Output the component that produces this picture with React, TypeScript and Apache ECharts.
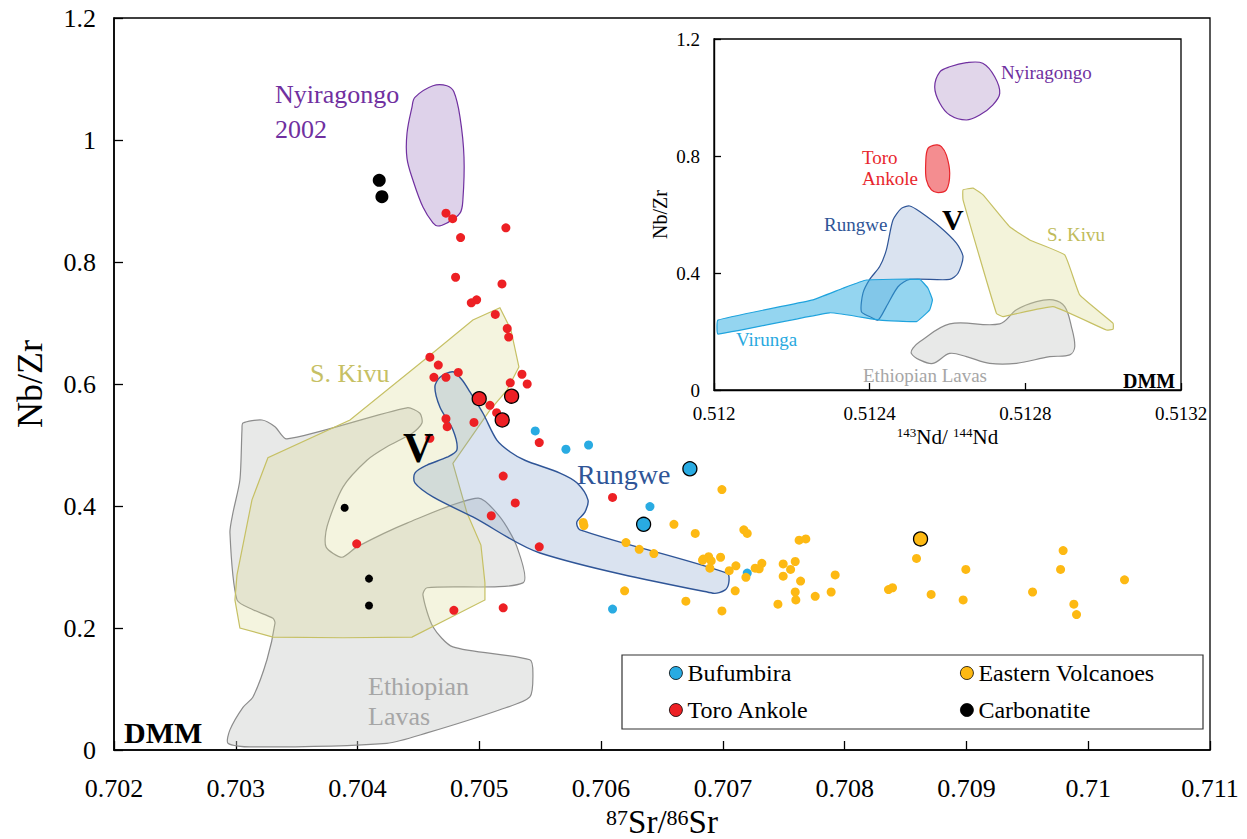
import { useEffect, useRef } from 'react';
import * as echarts from 'echarts';

const FONT = "'Liberation Serif', serif";

// ---------- Main diagram: 87Sr/86Sr vs Nb/Zr ----------
const srMin = 0.702;
const srMax = 0.711;
const srStep = 0.001;
const nbzrMin = 0;
const nbzrMax = 1.2;
const nbzrStep = 0.2;

const bufumbira = [
  [0.705459, 0.523], [0.705711, 0.493], [0.705897, 0.5], [0.706401, 0.399],
  [0.7072, 0.29], [0.706094, 0.231],
];
const bufumbiraAvg = [[0.706729, 0.461], [0.706349, 0.37]];

const toroAnkole = [
  [0.704726, 0.88], [0.704781, 0.871], [0.705218, 0.856], [0.704846, 0.84],
  [0.704805, 0.775], [0.705186, 0.764], [0.704978, 0.738], [0.704934, 0.733],
  [0.705131, 0.714], [0.705229, 0.691], [0.705241, 0.677], [0.704594, 0.644],
  [0.704663, 0.631], [0.704627, 0.611], [0.704726, 0.611], [0.704827, 0.619],
  [0.70535, 0.616], [0.705393, 0.6], [0.705254, 0.602], [0.705087, 0.565],
  [0.705142, 0.553], [0.704726, 0.543], [0.704736, 0.53], [0.704956, 0.537],
  [0.704594, 0.511], [0.705492, 0.504], [0.705196, 0.449], [0.705295, 0.405],
  [0.705098, 0.384], [0.705492, 0.333], [0.703993, 0.338], [0.704791, 0.229],
  [0.705196, 0.233], [0.706094, 0.414],
];
const toroAnkoleAvg = [[0.704999, 0.576], [0.705265, 0.58], [0.705188, 0.541]];

const easternVolcanoes = [
  [0.706992, 0.427], [0.705853, 0.373], [0.705859, 0.368], [0.706598, 0.37],
  [0.706773, 0.355], [0.707172, 0.361], [0.7072, 0.355], [0.707626, 0.344],
  [0.707681, 0.346], [0.706204, 0.34], [0.706313, 0.329], [0.706433, 0.322],
  [0.706833, 0.311], [0.706883, 0.317], [0.706904, 0.31], [0.706981, 0.316],
  [0.706893, 0.298], [0.707052, 0.294], [0.707107, 0.302], [0.707189, 0.283],
  [0.707265, 0.298], [0.70732, 0.306], [0.707495, 0.305], [0.707556, 0.296],
  [0.707594, 0.309], [0.707495, 0.285], [0.707638, 0.277], [0.707594, 0.259],
  [0.707599, 0.246], [0.707758, 0.252], [0.707452, 0.239], [0.707101, 0.261],
  [0.706992, 0.228], [0.706696, 0.244], [0.706193, 0.261], [0.70859, 0.314],
  [0.709794, 0.327], [0.709773, 0.296], [0.708995, 0.296], [0.710298, 0.279],
  [0.709543, 0.259], [0.709882, 0.239], [0.709904, 0.222], [0.708973, 0.246],
  [0.70871, 0.255], [0.70836, 0.263], [0.708393, 0.266], [0.707922, 0.287],
  [0.707889, 0.259], [0.707298, 0.297], [0.706838, 0.313],
];
const easternVolcanoesAvg = [[0.708623, 0.346]];

const carbonatite = [[0.703894, 0.397], [0.704094, 0.281], [0.704094, 0.237]];
const carbonatiteLarge = [[0.704178, 0.934], [0.7042, 0.907]];

// Field outlines (Sr isotope, Nb/Zr)
const nyiragongoField = [
  [0.704471, 1.07], [0.704619, 1.089], [0.704734, 1.089], [0.704791, 1.079],
  [0.704841, 1.038], [0.704874, 0.972], [0.704865, 0.902], [0.704841, 0.88],
  [0.704734, 0.864], [0.70466, 0.859], [0.704619, 0.864], [0.704537, 0.89],
  [0.704455, 0.934], [0.704406, 0.97], [0.704406, 1.011], [0.704447, 1.054],
];
const sKivuField = [
  [0.705169, 0.725], [0.705259, 0.689], [0.705325, 0.628], [0.705227, 0.59],
  [0.705087, 0.557], [0.704783, 0.47], [0.704898, 0.389], [0.705013, 0.336],
  [0.705046, 0.274], [0.705046, 0.246], [0.704447, 0.185], [0.70388, 0.184],
  [0.703305, 0.185], [0.703034, 0.2], [0.702993, 0.246], [0.70301, 0.287],
  [0.703133, 0.41], [0.703264, 0.479], [0.703938, 0.541], [0.70457, 0.643],
  [0.704947, 0.705],
];
const ethiopianField = [
  [0.703059, 0.536], [0.703215, 0.541], [0.703322, 0.53], [0.70342, 0.51],
  [0.704406, 0.561], [0.704512, 0.552], [0.704529, 0.536], [0.704455, 0.52],
  [0.704241, 0.497], [0.704077, 0.475], [0.70388, 0.431], [0.703749, 0.366],
  [0.703741, 0.333], [0.703872, 0.316], [0.703995, 0.333], [0.704406, 0.372],
  [0.704989, 0.413], [0.705169, 0.382], [0.705309, 0.333], [0.705358, 0.274],
  [0.70457, 0.266], [0.704537, 0.254], [0.704619, 0.202], [0.704783, 0.169],
  [0.705415, 0.148], [0.70544, 0.126], [0.705415, 0.087], [0.705169, 0.066],
  [0.70457, 0.028], [0.704241, 0.011], [0.703117, 0.005], [0.702936, 0.011],
  [0.702952, 0.033], [0.703059, 0.07], [0.703141, 0.087], [0.703256, 0.148],
  [0.703322, 0.208], [0.703305, 0.216], [0.703141, 0.23], [0.70301, 0.246],
  [0.702952, 0.356], [0.702977, 0.389], [0.703034, 0.443], [0.703051, 0.525],
];
const rungweField = [
  [0.704783, 0.62], [0.704857, 0.607], [0.704923, 0.587], [0.70503, 0.552],
  [0.705144, 0.508], [0.705251, 0.489], [0.705374, 0.475], [0.705662, 0.454],
  [0.705801, 0.438], [0.705892, 0.41], [0.705867, 0.39], [0.705801, 0.374],
  [0.705826, 0.361], [0.707033, 0.29], [0.707049, 0.275], [0.707016, 0.262],
  [0.706918, 0.257], [0.705498, 0.323], [0.704947, 0.382], [0.704619, 0.415],
  [0.704471, 0.438], [0.704471, 0.454], [0.70457, 0.467], [0.704734, 0.48],
  [0.704816, 0.492], [0.704783, 0.525], [0.704677, 0.562], [0.704635, 0.595],
  [0.704677, 0.611],
];

// ---------- Inset: 143Nd/144Nd vs Nb/Zr ----------
const ndMin = 0.512;
const ndMax = 0.5132;
const ndStep = 0.0004;
const insetYStep = 0.4;

const ndNyiragongo = [
  [0.5126057, 1.105], [0.5126486, 1.119], [0.5126905, 1.117], [0.5127213, 1.071],
  [0.5127342, 1.014], [0.5127162, 0.974], [0.5126828, 0.94], [0.5126486, 0.923],
  [0.5126057, 0.94], [0.51258, 0.981], [0.5125671, 1.036], [0.51258, 1.087],
];
const ndToroAnkole = [
  [0.5125499, 0.826], [0.5125715, 0.838], [0.5125843, 0.832], [0.5125972, 0.803],
  [0.5126057, 0.741], [0.5125972, 0.684], [0.5125756, 0.675], [0.5125586, 0.684],
  [0.5125458, 0.718], [0.512544, 0.775],
];
const ndRungwe = [
  [0.5124815, 0.621], [0.5125028, 0.629], [0.5125285, 0.61], [0.51258, 0.558],
  [0.5126229, 0.502], [0.5126399, 0.456], [0.512627, 0.399], [0.5126057, 0.378],
  [0.5125028, 0.378], [0.5124728, 0.353], [0.5124429, 0.285], [0.5124213, 0.239],
  [0.5124, 0.251], [0.5123787, 0.268], [0.5123828, 0.331], [0.5124, 0.378],
  [0.5124257, 0.422], [0.5124429, 0.479], [0.5124599, 0.581],
];
const ndVirunga = [
  [0.51201, 0.239], [0.5122542, 0.308], [0.5123314, 0.348], [0.5123915, 0.376],
  [0.5125285, 0.378], [0.5125499, 0.348], [0.5125612, 0.308], [0.5125542, 0.274],
  [0.5125201, 0.234], [0.5124257, 0.239], [0.5122972, 0.264], [0.51201, 0.191],
];
const ndSKivu = [
  [0.5126399, 0.684], [0.5126656, 0.69], [0.5126913, 0.667], [0.5127599, 0.558],
  [0.5128113, 0.513], [0.5129013, 0.462], [0.5129398, 0.325], [0.5130255, 0.228],
  [0.5130255, 0.208], [0.5130085, 0.205], [0.5128712, 0.285], [0.5127427, 0.251],
  [0.5127257, 0.262], [0.5126399, 0.65],
];
const ndEthiopian = [
  [0.5125113, 0.143], [0.5125285, 0.165], [0.5126057, 0.226], [0.5127342, 0.226],
  [0.5127771, 0.274], [0.5128285, 0.302], [0.5128712, 0.308], [0.5129013, 0.285],
  [0.5129185, 0.216], [0.512927, 0.148], [0.5129142, 0.12], [0.5128627, 0.114],
  [0.5127771, 0.091], [0.5127085, 0.091], [0.5126486, 0.114], [0.5126057, 0.125],
  [0.5125627, 0.091], [0.5125285, 0.103], [0.5125072, 0.125],
];

const COLORS = {
  bufumbira: '#29abe2',
  toro: '#ed2024',
  eastern: '#fdb913',
  carbonatite: '#000000',
};

type Pt = number[];

function region(points: Pt[], fill: string, stroke: string, smooth: number, axis: number, lineWidth = 1.2) {
  return {
    type: 'custom',
    xAxisIndex: axis,
    yAxisIndex: axis,
    silent: true,
    clip: false,
    z: 2,
    data: [points[0]],
    renderItem: (_params: any, api: any) => ({
      type: 'polygon',
      shape: { points: points.map((p) => api.coord(p)), smooth },
      style: { fill, stroke, lineWidth },
    }),
  };
}

function samples(name: string, color: string, small: Pt[], large: Pt[], smallSize: number, largeSize: number, outlined: boolean) {
  const data: any[] = small.map((p) => p.slice());
  large.forEach((p) => {
    data.push({
      value: p.slice(),
      symbolSize: largeSize,
      itemStyle: outlined ? { borderColor: '#000', borderWidth: 1.3 } : {},
    });
  });
  return {
    type: 'scatter',
    name,
    xAxisIndex: 0,
    yAxisIndex: 0,
    symbol: 'circle',
    symbolSize: smallSize,
    itemStyle: { color, opacity: 1 },
    data,
    z: 5,
  };
}

function label(text: string, x: number, y: number, size: number, fill: string, bold = false) {
  return {
    type: 'text',
    x,
    y,
    z: 100,
    silent: true,
    style: {
      text,
      fill,
      font: `${bold ? 'bold ' : ''}${size}px ${FONT}`,
      align: 'left',
      verticalAlign: 'middle',
    },
  };
}

const fmt = (digits: number) => (v: number) => String(parseFloat(v.toFixed(digits)));

export default function App() {
  const ref = useRef<HTMLDivElement>(null);

  useEffect(() => {
    if (!ref.current) return;
    const chart = echarts.init(ref.current, null, { renderer: 'svg' });

    const axisLine = { show: true, lineStyle: { color: '#000', width: 1.6 } };
    const tick = { show: true, inside: true, length: 9, lineStyle: { color: '#000', width: 1.3 } };

    const option: any = {
      animation: false,
      backgroundColor: '#fff',
      textStyle: { fontFamily: FONT },
      grid: [
        { left: 114, top: 18, width: 1096, height: 732, outerBoundsMode: 'none', containLabel: false, show: true, borderColor: '#000', borderWidth: 1.3, backgroundColor: 'transparent' },
        { left: 714, top: 39, width: 467, height: 351, outerBoundsMode: 'none', containLabel: false, show: true, borderColor: '#000', borderWidth: 1.3, backgroundColor: '#fff' },
      ],
      xAxis: [
        {
          type: 'value', gridIndex: 0, min: srMin, max: srMax, interval: srStep,
          axisLine, axisTick: tick, splitLine: { show: false },
          axisLabel: { formatter: fmt(3), fontFamily: FONT, fontSize: 26, color: '#000', margin: 25 },
          name: '{s|87}{m|Sr/}{s|86}{m|Sr}',
          nameLocation: 'middle',
          nameGap: 46,
          nameTextStyle: {
            fontFamily: FONT,
            color: '#000',
            rich: {
              m: { fontFamily: FONT, fontSize: 33, color: '#000', lineHeight: 32 },
              s: { fontFamily: FONT, fontSize: 22, color: '#000', verticalAlign: 'top', lineHeight: 32 },
            },
          },
        },
        {
          type: 'value', gridIndex: 1, min: ndMin, max: ndMax, interval: ndStep,
          axisLine: { show: true, lineStyle: { color: '#000', width: 1.4 } },
          axisTick: { ...tick, length: 7 }, splitLine: { show: false },
          axisLabel: { formatter: fmt(4), fontFamily: FONT, fontSize: 19, color: '#000', margin: 14 },
          name: '{s|143}{m|Nd/ }{s|144}{m|Nd}',
          nameLocation: 'middle',
          nameGap: 36,
          nameTextStyle: {
            fontFamily: FONT,
            color: '#000',
            rich: {
              m: { fontFamily: FONT, fontSize: 21, color: '#000', lineHeight: 22 },
              s: { fontFamily: FONT, fontSize: 13, color: '#000', verticalAlign: 'top', lineHeight: 22 },
            },
          },
        },
      ],
      yAxis: [
        {
          type: 'value', gridIndex: 0, min: nbzrMin, max: nbzrMax, interval: nbzrStep,
          axisLine, axisTick: tick, splitLine: { show: false },
          axisLabel: { formatter: fmt(1), fontFamily: FONT, fontSize: 26, color: '#000', margin: 18 },
          name: 'Nb/Zr', nameLocation: 'middle', nameGap: 66, nameRotate: 90,
          nameTextStyle: { fontFamily: FONT, fontSize: 36, color: '#000' },
        },
        {
          type: 'value', gridIndex: 1, min: nbzrMin, max: nbzrMax, interval: insetYStep,
          axisLine: { show: true, lineStyle: { color: '#000', width: 1.4 } },
          axisTick: { ...tick, length: 7 }, splitLine: { show: false },
          axisLabel: { formatter: fmt(1), fontFamily: FONT, fontSize: 19, color: '#000', margin: 14 },
          name: 'Nb/Zr', nameLocation: 'middle', nameGap: 44, nameRotate: 90,
          nameTextStyle: { fontFamily: FONT, fontSize: 20, color: '#000' },
        },
      ],
      legend: [
        {
          data: ['Bufumbira', 'Toro Ankole'],
          orient: 'vertical', left: 664, top: 655, itemGap: 11,
          itemWidth: 13, itemHeight: 13, icon: 'circle',
          itemStyle: { borderColor: '#000', borderWidth: 0.8 },
          textStyle: { fontFamily: FONT, fontSize: 24, color: '#000', lineHeight: 26 },
          selectedMode: false,
        },
        {
          data: ['Eastern Volcanoes', 'Carbonatite'],
          orient: 'vertical', left: 955, top: 655, itemGap: 11,
          itemWidth: 13, itemHeight: 13, icon: 'circle',
          itemStyle: { borderColor: '#000', borderWidth: 0.8 },
          textStyle: { fontFamily: FONT, fontSize: 24, color: '#000', lineHeight: 26 },
          selectedMode: false,
        },
      ],
      series: [
        region(ethiopianField, 'rgba(200,202,200,0.42)', '#8c8c8c', 0.25, 0),
        region(sKivuField, 'rgba(220,220,150,0.3)', '#c6c064', 0, 0),
        region(rungweField, 'rgba(120,150,200,0.27)', '#2f5597', 0.3, 0, 1.4),
        region(nyiragongoField, 'rgba(200,180,220,0.6)', '#7030a0', 0.35, 0),
        samples('Bufumbira', COLORS.bufumbira, bufumbira, bufumbiraAvg, 9, 14, true),
        samples('Eastern Volcanoes', COLORS.eastern, easternVolcanoes, easternVolcanoesAvg, 9, 14, true),
        samples('Toro Ankole', COLORS.toro, toroAnkole, toroAnkoleAvg, 9, 14, true),
        samples('Carbonatite', COLORS.carbonatite, carbonatite, carbonatiteLarge, 8, 13, false),
        region(ndEthiopian, '#e8e9e8', '#8c8c8c', 0.35, 1),
        region(ndSKivu, 'rgba(220,220,150,0.35)', '#c6c064', 0.1, 1),
        region(ndRungwe, 'rgba(120,150,200,0.27)', '#2f5597', 0.25, 1),
        region(ndVirunga, 'rgba(41,171,226,0.5)', '#1fa3dd', 0.1, 1),
        region(ndToroAnkole, '#f48d90', '#e8262c', 0.35, 1),
        region(ndNyiragongo, '#e1d6ea', '#7030a0', 0.35, 1),
      ],
      graphic: [
        { type: 'rect', z: 90, silent: true, shape: { x: 622, y: 655, width: 581, height: 74 }, style: { fill: 'none', stroke: '#333', lineWidth: 1.2 } },
        label('Nyiragongo', 275, 94, 26, '#7030a0'),
        label('2002', 275, 129, 26, '#7030a0'),
        label('S. Kivu', 310, 373, 26, '#c6c064'),
        label('V', 403, 448, 42, '#000', true),
        label('Rungwe', 577, 474, 28, '#2f5597'),
        label('Ethiopian', 368, 686, 26, '#a6a6a6'),
        label('Lavas', 368, 716, 26, '#a6a6a6'),
        label('DMM', 124, 732, 30, '#000', true),
        label('Nyiragongo', 1001, 72, 19, '#7030a0'),
        label('Toro', 862, 157, 19, '#e8262c'),
        label('Ankole', 862, 178, 19, '#e8262c'),
        label('Rungwe', 824, 224, 19, '#2f5597'),
        label('V', 942, 219, 30, '#000', true),
        label('S. Kivu', 1047, 234, 19, '#c0bb5a'),
        label('Virunga', 736, 339, 19, '#29a9e0'),
        label('Ethiopian Lavas', 863, 375, 19, '#a6a6a6'),
        label('DMM', 1123, 381, 20, '#000', true),
      ],
    };

    chart.setOption(option);
    return () => chart.dispose();
  }, []);

  return (
    <div
      ref={ref}
      style={{ position: 'fixed', left: 0, top: 0, width: 1247, height: 839, background: '#fff' }}
    />
  );
}
